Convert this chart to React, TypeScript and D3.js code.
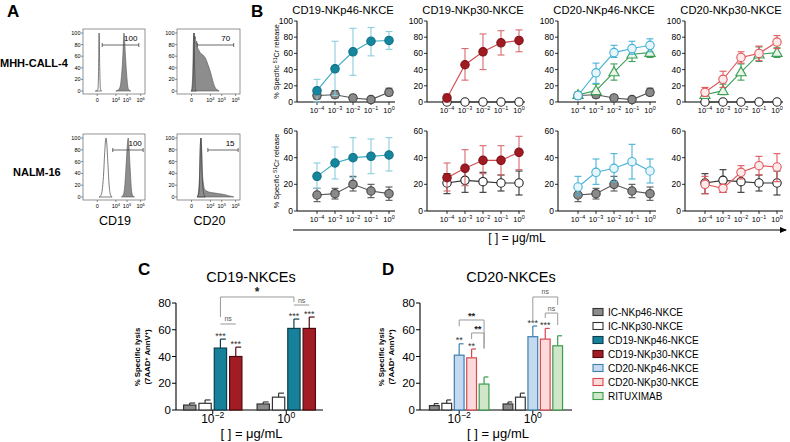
import React from "react";
import * as d3 from "d3";

const FONT = "'Liberation Sans', Arial, Helvetica, sans-serif";

// ---------------- Panel A data (channel units 0-100, % of max) ----------------
const histYTicks = [0, 20, 40, 60, 80, 100];
const histXTickChannels = [23, 53, 71, 93];
const histXTickExps = ["", "4", "5", "6"];
const histColumnLabels = ["CD19", "CD20"];
const histRowLabels = ["MHH-CALL-4", "NALM-16"];
const histGateLabels = ["100", "70", "100", "15"];
const histGateStart = [31, 32, 48, 49];
const histGateEnd = [90, 90, 97, 97];

const histIsoA1: [number, number][] = [[20, 0], [24, 2], [25, 30], [26, 100], [27, 40], [28, 4], [30, 0]];
const histStainA1: [number, number][] = [[53, 0], [57, 2], [60, 8], [62, 25], [64, 55], [65, 80], [66, 100], [67, 92], [68, 70], [70, 35], [72, 10], [74, 2], [77, 0]];
const histIsoA2: [number, number][] = [[22, 0], [25, 3], [26, 40], [27, 100], [28, 45], [29, 5], [31, 0]];
const histStainA2: [number, number][] = [[23, 0], [25, 30], [26, 85], [27, 100], [28, 90], [29, 94], [30, 82], [31, 86], [33, 74], [35, 70], [37, 66], [39, 64], [41, 62], [43, 60], [45, 57], [47, 52], [49, 46], [51, 40], [53, 33], [55, 25], [57, 17], [59, 10], [61, 5], [64, 2], [67, 0]];
const histIsoB1: [number, number][] = [[26, 0], [29, 3], [31, 12], [33, 35], [35, 75], [37, 100], [38, 95], [40, 60], [42, 22], [44, 5], [47, 0]];
const histStainB1: [number, number][] = [[62, 0], [65, 4], [67, 15], [69, 45], [71, 80], [72, 95], [73, 100], [74, 88], [76, 50], [78, 15], [80, 3], [83, 0]];
const histIsoB2: [number, number][] = [[32, 0], [35, 8], [36, 40], [37, 85], [38, 100], [39, 80], [40, 35], [42, 8], [45, 0]];
const histStainB2: [number, number][] = [[32, 0], [34, 8], [36, 45], [37, 88], [38, 100], [39, 85], [40, 50], [42, 22], [44, 13], [47, 10], [52, 8], [58, 7], [64, 6], [70, 5], [76, 4], [82, 2], [87, 1], [90, 0]];

// ---------------- Panel B data ----------------
const concentrations = [1e-4, 1e-3, 1e-2, 1e-1, 1];
const concExponents = ["\u22124", "\u22123", "\u22122", "\u22121", "0"];
const bTitles = ["CD19-NKp46-NKCE", "CD19-NKp30-NKCE", "CD20-NKp46-NKCE", "CD20-NKp30-NKCE"];
const bTopTicks = [0, 20, 40, 60, 80, 100];
const bBottomTicks = [0, 20, 40, 60];

// MHH-CALL-4 (top row)
const mhhIc46 = [8, 9, 5, 3, 12];
const mhhIc46Lo = [4, 5, 3, 1, 8];
const mhhIc46Hi = [12, 14, 7, 5, 17];
const mhhIc30 = [0, 0, 0, 0, 0];
const mhhCd19p46 = [14, 41, 62, 75, 76];
const mhhCd19p46Lo = [0, 8, 33, 57, 65];
const mhhCd19p46Hi = [28, 75, 91, 92, 87];
const mhhCd19p30 = [5, 46, 62, 73, 76];
const mhhCd19p30Lo = [0, 27, 40, 58, 62];
const mhhCd19p30Hi = [10, 66, 84, 88, 89];
const mhhCd20p46 = [8, 36, 61, 66, 70];
const mhhCd20p46Lo = [5, 23, 55, 59, 62];
const mhhCd20p46Hi = [11, 48, 70, 75, 78];
const mhhCd20p30 = [12, 28, 55, 60, 74];
const mhhCd20p30Lo = [7, 18, 48, 51, 66];
const mhhCd20p30Hi = [18, 38, 62, 69, 82];
const mhhRtx = [9, 14, 37, 59, 61];
const mhhRtxLo = [6, 9, 27, 50, 55];
const mhhRtxHi = [12, 22, 47, 68, 67];

// NALM-16 (bottom row)
const nalmIc46 = [12, 13, 20, 15, 13];
const nalmIc46Lo = [7, 9, 15, 10, 8];
const nalmIc46Hi = [17, 17, 26, 20, 18];
const nalmIc30 = [21, 23, 22, 21, 21];
const nalmIc30Lo = [13, 14, 14, 15, 12];
const nalmIc30Hi = [28, 31, 29, 27, 30];
const nalmCd19p46 = [26, 36, 40, 41, 42];
const nalmCd19p46Lo = [17, 24, 25, 28, 30];
const nalmCd19p46Hi = [36, 48, 55, 54, 55];
const nalmCd19p30 = [25, 32, 38, 38, 44];
const nalmCd19p30Lo = [15, 19, 28, 27, 31];
const nalmCd19p30Hi = [36, 46, 49, 49, 56];
const nalmCd20p46 = [18, 29, 32, 37, 30];
const nalmCd20p46Lo = [12, 20, 22, 24, 21];
const nalmCd20p46Hi = [26, 39, 43, 50, 39];
const nalmCd20p30 = [20, 17, 29, 34, 33];
const nalmCd20p30Lo = [13, 14, 24, 27, 22];
const nalmCd20p30Hi = [26, 20, 34, 41, 43];

// ---------------- Panels C & D data ----------------
const barGroupExps = ["\u22122", "0"];
const barTicks = [0, 20, 40, 60, 80];
const cKeys = ["ic46", "ic30", "cd19p46", "cd19p30"];
const cLowDose = [3.7, 5, 46.3, 40];
const cLowDoseErr = [5.2, 7.5, 53, 47];
const cHighDose = [4.5, 9.6, 61, 61];
const cHighDoseErr = [6, 12.6, 68, 69.5];
const cLowStars = ["", "", "***", "***"];
const cHighStars = ["", "", "***", "***"];

const dKeys = ["ic46", "ic30", "cd20p46", "cd20p30", "rtx"];
const dLowDose = [3.3, 5, 41, 39, 19.4];
const dLowDoseErr = [4.8, 7.5, 49.5, 45.6, 24.7];
const dHighDose = [4.5, 9.6, 54.8, 53, 48];
const dHighDoseErr = [6, 12.6, 62.8, 61, 55.5];
const dLowStars = ["", "", "**", "**", ""];
const dHighStars = ["", "", "***", "***", ""];

const legendKeys = ["ic46", "ic30", "cd19p46", "cd19p30", "cd20p46", "cd20p30", "rtx"];
const legendLabels = ["IC-NKp46-NKCE", "IC-NKp30-NKCE", "CD19-NKp46-NKCE", "CD19-NKp30-NKCE", "CD20-NKp46-NKCE", "CD20-NKp30-NKCE", "RITUXIMAB"];

// ---------------- styles ----------------
const LINE_STY: Record<string, any> = {
  ic46: { fill: "#8a8a8a", stroke: "#444", line: "#555", err: "#555" },
  ic30: { fill: "#ffffff", stroke: "#222", line: "#333", err: "#333" },
  cd19p46: { fill: "#14869e", stroke: "#0f6f84", line: "#3aaac4", err: "#8acddc" },
  cd19p30: { fill: "#a01a22", stroke: "#7d1219", line: "#d24a4f", err: "#d76a6e" },
  cd20p46: { fill: "#e8f5fb", stroke: "#47b2d8", line: "#47b2d8", err: "#47b2d8" },
  cd20p30: { fill: "#fdeaea", stroke: "#e0585d", line: "#e0585d", err: "#e0585d" },
  rtx: { fill: "#e8f5e8", stroke: "#3b9f56", line: "#3b9f56", err: "#3b9f56", tri: true },
};
const BAR_STY: Record<string, any> = {
  ic46: { fill: "#8c8c8c", stroke: "#333" },
  ic30: { fill: "#ffffff", stroke: "#333" },
  cd19p46: { fill: "#17819b", stroke: "#0b3f4d" },
  cd19p30: { fill: "#a11c24", stroke: "#4d0a0e" },
  cd20p46: { fill: "#c3daf0", stroke: "#3f7fae" },
  cd20p30: { fill: "#fbdadc", stroke: "#d9464c" },
  rtx: { fill: "#cfe7c8", stroke: "#3a9c4c" },
};

function Pow({ x, y, exp, size, anchor = "middle", base = "10" }: any) {
  return (
    <text x={x} y={y} fontSize={size} textAnchor={anchor} fontFamily={FONT} fill="#000">
      {base}
      {exp !== "" && (
        <tspan dy={-size * 0.45} fontSize={size * 0.72}>
          {exp}
        </tspan>
      )}
    </text>
  );
}

// ---------------- Panel A ----------------
function PanelA() {
  const cols = [[83, 145], [177, 240]];
  const rows = [[33, 91], [138, 197]];
  const cells = [
    { r: 0, c: 0, iso: histIsoA1, stain: histStainA1 },
    { r: 0, c: 1, iso: histIsoA2, stain: histStainA2 },
    { r: 1, c: 0, iso: histIsoB1, stain: histStainB1 },
    { r: 1, c: 1, iso: histIsoB2, stain: histStainB2 },
  ];
  return (
    <g>
      <text x={7} y={17} fontSize={17} fontWeight="bold" fontFamily={FONT}>A</text>
      {histRowLabels.map((l, i) => (
        <text key={l} x={i === 0 ? 0 : 13} y={i === 0 ? 67 : 176} fontSize={11} fontWeight="bold" fontFamily={FONT}>{l}</text>
      ))}
      {histColumnLabels.map((l, i) => (
        <text key={l} x={(cols[i][0] + cols[i][1]) / 2 + 1} y={225} fontSize={12.5} textAnchor="middle" fontFamily={FONT}>{l}</text>
      ))}
      {cells.map((cell, idx) => {
        const [x0, x1] = cols[cell.c];
        const [yt, yb] = rows[cell.r];
        const xs = d3.scaleLinear().domain([0, 100]).range([x0, x1]);
        const ys = d3.scaleLinear().domain([0, 100]).range([yb, yt]);
        const area = d3.area<[number, number]>().x((d) => xs(d[0])).y0(yb).y1((d) => ys(d[1])).curve(d3.curveMonotoneX);
        const gy = yt + 12;
        return (
          <g key={idx}>
            <rect x={x0} y={yt - 4} width={x1 - x0} height={yb - yt + 7} fill="none" stroke="#666" strokeWidth={0.7} />
            <path d={area(cell.stain) || ""} fill="#8d8d8d" stroke="#555" strokeWidth={0.6} />
            <path d={area(cell.iso) || ""} fill="none" stroke="#444" strokeWidth={0.7} />
            {histYTicks.map((t) => (
              <g key={t}>
                <line x1={x0 - 2} x2={x0} y1={ys(t)} y2={ys(t)} stroke="#444" strokeWidth={0.6} />
                <text x={x0 - 2.5} y={ys(t) + 2} fontSize={5.5} textAnchor="end" fontFamily={FONT}>{t}</text>
              </g>
            ))}
            {histXTickChannels.map((ch, i) => (
              <g key={i}>
                <line x1={xs(ch)} x2={xs(ch)} y1={yb + 3} y2={yb + 5} stroke="#444" strokeWidth={0.6} />
                {histXTickExps[i] === "" ? (
                  <text x={xs(ch)} y={yb + 11} fontSize={5.5} textAnchor="middle" fontFamily={FONT}>0</text>
                ) : (
                  <Pow x={xs(ch)} y={yb + 11} exp={histXTickExps[i]} size={5.5} />
                )}
              </g>
            ))}
            <line x1={xs(histGateStart[idx])} x2={xs(histGateEnd[idx])} y1={gy} y2={gy} stroke="#444" strokeWidth={0.8} />
            <line x1={xs(histGateStart[idx])} x2={xs(histGateStart[idx])} y1={gy - 2} y2={gy + 2} stroke="#444" strokeWidth={0.8} />
            <line x1={xs(histGateEnd[idx])} x2={xs(histGateEnd[idx])} y1={gy - 2} y2={gy + 2} stroke="#444" strokeWidth={0.8} />
            <text x={xs(histGateEnd[idx]) - 8} y={gy - 4} fontSize={8} textAnchor="middle" fontFamily={FONT}>{histGateLabels[idx]}</text>
          </g>
        );
      })}
    </g>
  );
}

// ---------------- Panel B ----------------
function buildSeries(v: number[], lo?: number[], hi?: number[]) {
  return { v, lo, hi };
}
const topSeries: Record<string, any> = {
  ic46: buildSeries(mhhIc46, mhhIc46Lo, mhhIc46Hi),
  ic30: buildSeries(mhhIc30),
  cd19p46: buildSeries(mhhCd19p46, mhhCd19p46Lo, mhhCd19p46Hi),
  cd19p30: buildSeries(mhhCd19p30, mhhCd19p30Lo, mhhCd19p30Hi),
  cd20p46: buildSeries(mhhCd20p46, mhhCd20p46Lo, mhhCd20p46Hi),
  cd20p30: buildSeries(mhhCd20p30, mhhCd20p30Lo, mhhCd20p30Hi),
  rtx: buildSeries(mhhRtx, mhhRtxLo, mhhRtxHi),
};
const bottomSeries: Record<string, any> = {
  ic46: buildSeries(nalmIc46, nalmIc46Lo, nalmIc46Hi),
  ic30: buildSeries(nalmIc30, nalmIc30Lo, nalmIc30Hi),
  cd19p46: buildSeries(nalmCd19p46, nalmCd19p46Lo, nalmCd19p46Hi),
  cd19p30: buildSeries(nalmCd19p30, nalmCd19p30Lo, nalmCd19p30Hi),
  cd20p46: buildSeries(nalmCd20p46, nalmCd20p46Lo, nalmCd20p46Hi),
  cd20p30: buildSeries(nalmCd20p30, nalmCd20p30Lo, nalmCd20p30Hi),
};
const topPanels = [["ic46", "cd19p46"], ["ic30", "cd19p30"], ["ic46", "rtx", "cd20p46"], ["ic30", "rtx", "cd20p30"]];
const bottomPanels = [["ic46", "cd19p46"], ["ic30", "cd19p30"], ["ic46", "cd20p46"], ["ic30", "cd20p30"]];

function LinePanel({ x0, top, bottom, max, ticks, keys, data, yLabel }: any) {
  const xs = d3.scaleLog().domain([1e-4, 1]).range([x0 + 20, x0 + 92]);
  const ys = d3.scaleLinear().domain([0, max]).range([bottom, top]);
  const line = d3.line<number>().x((_, i) => xs(concentrations[i])).y((d) => ys(d));
  const tri = d3.symbol().type(d3.symbolTriangle).size(46)();
  return (
    <g>
      <line x1={x0} x2={x0} y1={top} y2={bottom} stroke="#000" strokeWidth={1} />
      <line x1={x0} x2={x0 + 98} y1={bottom} y2={bottom} stroke="#000" strokeWidth={1} />
      {ticks.map((t: number) => (
        <g key={t}>
          <line x1={x0 - 3} x2={x0} y1={ys(t)} y2={ys(t)} stroke="#000" strokeWidth={0.8} />
          <text x={x0 - 4} y={ys(t) + 3} fontSize={8.5} textAnchor="end" fontFamily={FONT}>{t}</text>
        </g>
      ))}
      {concentrations.map((c, i) => (
        <g key={i}>
          <line x1={xs(c)} x2={xs(c)} y1={bottom} y2={bottom + 3} stroke="#000" strokeWidth={0.8} />
          <Pow x={xs(c)} y={bottom + 11} exp={concExponents[i]} size={7.5} />
        </g>
      ))}
      {yLabel && (
        <text transform={`translate(${x0 - 18},${(top + bottom) / 2}) rotate(-90)`} fontSize={7.2} textAnchor="middle" fontFamily={FONT}>
          % Specific <tspan dy={-2.5} fontSize={5.2}>51</tspan><tspan dy={2.5}>Cr release</tspan>
        </text>
      )}
      {keys.map((k: string) => {
        const s = data[k];
        const st = LINE_STY[k];
        return (
          <g key={k}>
            {s.lo && s.v.map((v: number, i: number) => {
              const x = xs(concentrations[i]);
              return (
                <g key={i} stroke={st.err} strokeWidth={1.1}>
                  <line x1={x} x2={x} y1={ys(s.lo[i])} y2={ys(s.hi[i])} />
                  <line x1={x - 3.5} x2={x + 3.5} y1={ys(s.hi[i])} y2={ys(s.hi[i])} />
                  <line x1={x - 3.5} x2={x + 3.5} y1={ys(s.lo[i])} y2={ys(s.lo[i])} />
                </g>
              );
            })}
            <path d={line(s.v) || ""} fill="none" stroke={st.line} strokeWidth={1.1} />
            {s.v.map((v: number, i: number) =>
              st.tri ? (
                <path key={i} d={tri || ""} transform={`translate(${xs(concentrations[i])},${ys(v) + 0.8})`} fill={st.fill} stroke={st.stroke} strokeWidth={1.1} />
              ) : (
                <circle key={i} cx={xs(concentrations[i])} cy={ys(v)} r={4.2} fill={st.fill} stroke={st.stroke} strokeWidth={1.1} />
              )
            )}
          </g>
        );
      })}
    </g>
  );
}

function PanelB() {
  const cols = [297, 427, 558, 685];
  return (
    <g>
      <text x={251} y={17} fontSize={17} fontWeight="bold" fontFamily={FONT}>B</text>
      {bTitles.map((t, i) => (
        <text key={t} x={cols[i] + 46} y={14} fontSize={11.2} textAnchor="middle" fontFamily={FONT}>{t}</text>
      ))}
      {cols.map((x0, i) => (
        <LinePanel key={"t" + i} x0={x0} top={21} bottom={102} max={100} ticks={bTopTicks} keys={topPanels[i]} data={topSeries} yLabel={i === 0} />
      ))}
      {cols.map((x0, i) => (
        <LinePanel key={"b" + i} x0={x0} top={131} bottom={211} max={60} ticks={bBottomTicks} keys={bottomPanels[i]} data={bottomSeries} yLabel={i === 0} />
      ))}
      <defs>
        <marker id="arrowHead" markerWidth={8} markerHeight={8} refX={6} refY={4} orient="auto" markerUnits="userSpaceOnUse">
          <path d="M0,1 L7,4 L0,7 Z" fill="#000" />
        </marker>
      </defs>
      <line x1={293} x2={786} y1={230} y2={230} stroke="#000" strokeWidth={1.2} markerEnd="url(#arrowHead)" />
      <text x={517} y={242} fontSize={12} textAnchor="middle" fontFamily={FONT}>[ ] = μg/mL</text>
    </g>
  );
}

// ---------------- Panels C & D ----------------
function BarPanel({ label, labelX, title, titleX, axisX, axisEnd, keys, low, lowErr, high, highErr, lowStars, highStars, po, pi, brackets }: any) {
  const ys = d3.scaleLinear().domain([0, 80]).range([410, 303]);
  const gx = d3.scaleBand<string>().domain(barGroupExps).range([axisX, axisEnd]).paddingInner(pi).paddingOuter(po);
  const ix = d3.scaleBand<string>().domain(keys).range([0, gx.bandwidth()]).paddingInner(0.12);
  const groupsVals = [low, high];
  const groupsErr = [lowErr, highErr];
  const groupsStars = [lowStars, highStars];
  const cxOf = (g: number, s: number) => (gx(barGroupExps[g]) as number) + (ix(keys[s]) as number) + ix.bandwidth() / 2;
  return (
    <g>
      <text x={labelX} y={275} fontSize={17} fontWeight="bold" fontFamily={FONT}>{label}</text>
      <text x={titleX} y={282} fontSize={14.5} textAnchor="middle" fontFamily={FONT}>{title}</text>
      <line x1={axisX} x2={axisX} y1={ys(80)} y2={ys(0)} stroke="#000" strokeWidth={1.1} />
      <line x1={axisX} x2={axisEnd} y1={ys(0)} y2={ys(0)} stroke="#000" strokeWidth={1.1} />
      {barTicks.map((t) => (
        <g key={t}>
          <line x1={axisX - 4} x2={axisX} y1={ys(t)} y2={ys(t)} stroke="#000" strokeWidth={1} />
          <text x={axisX - 5} y={ys(t) + 4} fontSize={11.5} textAnchor="end" fontFamily={FONT}>{t}</text>
        </g>
      ))}
      <text transform={`translate(${axisX - 36},357) rotate(-90)`} fontSize={7.8} textAnchor="middle" fontFamily={FONT} fontWeight="bold">% Specific lysis</text>
      <text transform={`translate(${axisX - 26},357) rotate(-90)`} fontSize={7.8} textAnchor="middle" fontFamily={FONT} fontWeight="bold">
        (7AAD<tspan dy={-2.5} fontSize={5.5}>+</tspan><tspan dy={2.5}> AnnV</tspan><tspan dy={-2.5} fontSize={5.5}>+</tspan><tspan dy={2.5}>)</tspan>
      </text>
      {barGroupExps.map((g, gi) => {
        const center = (gx(g) as number) + gx.bandwidth() / 2;
        return (
          <g key={g}>
            <line x1={center} x2={center} y1={ys(0)} y2={ys(0) + 4} stroke="#000" strokeWidth={1} />
            <Pow x={center} y={423} exp={g} size={12} />
            {keys.map((k: string, si: number) => {
              const st = BAR_STY[k];
              const x = (gx(g) as number) + (ix(k) as number);
              const w = ix.bandwidth();
              const v = groupsVals[gi][si];
              const e = groupsErr[gi][si];
              const cx = x + w / 2;
              return (
                <g key={k}>
                  <line x1={cx} x2={cx} y1={ys(v)} y2={ys(e)} stroke={st.stroke} strokeWidth={1.2} />
                  <line x1={cx} x2={cx + w * 0.4} y1={ys(e)} y2={ys(e)} stroke={st.stroke} strokeWidth={1.2} />
                  <rect x={x + 0.6} y={ys(v)} width={w - 1.2} height={ys(0) - ys(v)} fill={st.fill} stroke={st.stroke} strokeWidth={1.2} />
                  {groupsStars[gi][si] && (
                    <text x={cx} y={ys(e) - 0.5} fontSize={9} textAnchor="middle" fontFamily={FONT} fill="#333">{groupsStars[gi][si]}</text>
                  )}
                </g>
              );
            })}
          </g>
        );
      })}
      {brackets.map((b: any, i: number) => {
        const xa = cxOf(b.a[0], b.a[1]);
        const xb = cxOf(b.b[0], b.b[1]);
        const isNs = b.text === "ns";
        return (
          <g key={i}>
            <path d={`M${xa},${ys(b.da)} L${xa},${ys(b.lvl)} L${xb},${ys(b.lvl)} L${xb},${ys(b.db)}`} fill="none" stroke="#999" strokeWidth={1} />
            <text x={(xa + xb) / 2} y={ys(b.lvl) - (isNs ? 2.5 : 0.5)} fontSize={isNs ? 7 : b.text === "*" ? 12 : 9.5} textAnchor="middle" fontFamily={FONT} fill={isNs ? "#555" : "#222"} fontWeight={isNs ? "normal" : "bold"}>{b.text}</text>
          </g>
        );
      })}
      <text x={(axisX + axisEnd) / 2 + 2} y={438} fontSize={13} textAnchor="middle" fontFamily={FONT}>[ ] = μg/mL</text>
    </g>
  );
}

const cBrackets = [
  { a: [0, 2], b: [0, 3], lvl: 64.3, da: 64.3, db: 64.3, text: "ns" },
  { a: [0, 2], b: [1, 2], lvl: 84.5, da: 69.5, db: 80.7, text: "*" },
  { a: [1, 2], b: [1, 3], lvl: 78.5, da: 78.5, db: 78.5, text: "ns" },
];
const dBrackets = [
  { a: [0, 2], b: [0, 4], lvl: 67.3, da: 62.5, db: 46, text: "**" },
  { a: [0, 3], b: [0, 4], lvl: 57.6, da: 53, db: 46, text: "**" },
  { a: [1, 2], b: [1, 4], lvl: 84.5, da: 66, db: 78.5, text: "ns" },
  { a: [1, 3], b: [1, 4], lvl: 72.5, da: 68.8, db: 63.5, text: "ns" },
];

function Legend() {
  return (
    <g>
      {legendKeys.map((k, i) => {
        const y = 312 + 14 * i;
        const st = BAR_STY[k];
        return (
          <g key={k}>
            <rect x={593} y={y - 3.5} width={10} height={7} fill={st.fill} stroke={st.stroke} strokeWidth={1.1} />
            <text x={608} y={y + 3.5} fontSize={10} fontFamily={FONT}>{legendLabels[i]}</text>
          </g>
        );
      })}
    </g>
  );
}

export default function App() {
  return (
    <svg width={790} height={442} style={{ position: "absolute", left: 0, top: 0, background: "#fff" }} fontFamily={FONT}>
      <rect width={790} height={442} fill="#fff" />
      <PanelA />
      <PanelB />
      <BarPanel label="C" labelX={138} title="CD19-NKCEs" titleX={251} axisX={176} axisEnd={323} keys={cKeys}
        low={cLowDose} lowErr={cLowDoseErr} high={cHighDose} highErr={cHighDoseErr} lowStars={cLowStars} highStars={cHighStars}
        pi={0.19} po={0.095} brackets={cBrackets} />
      <BarPanel label="D" labelX={382} title="CD20-NKCEs" titleX={511} axisX={420} axisEnd={572} keys={dKeys}
        low={dLowDose} lowErr={dLowDoseErr} high={dHighDose} highErr={dHighDoseErr} lowStars={dLowStars} highStars={dHighStars}
        pi={0.176} po={0.12} brackets={dBrackets} />
      <Legend />
    </svg>
  );
}
